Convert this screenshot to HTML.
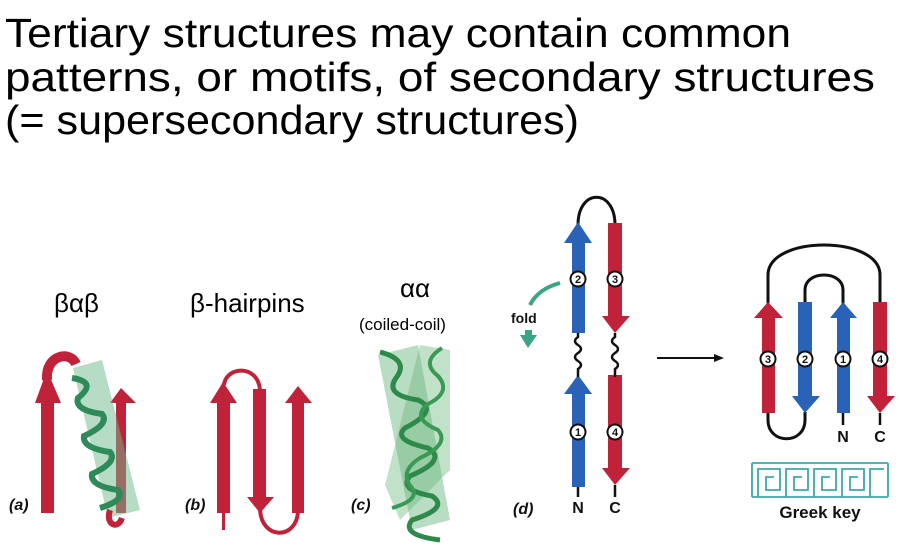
<!DOCTYPE html>
<html><head><meta charset="utf-8"><style>
body{margin:0;background:#fff;width:900px;height:549px;overflow:hidden}
svg{display:block}
.t{font-family:"Liberation Sans",sans-serif;fill:#000}
.b{font-family:"Liberation Sans",sans-serif;font-weight:bold;fill:#111}
</style></head><body>
<svg width="900" height="549" viewBox="0 0 900 549">
<g class="t" font-size="41">
<text x="5" y="47" textLength="786" lengthAdjust="spacingAndGlyphs">Tertiary structures may contain common</text>
<text x="5" y="91" textLength="870" lengthAdjust="spacingAndGlyphs">patterns, or motifs, of secondary structures</text>
<text x="5" y="134" textLength="574" lengthAdjust="spacingAndGlyphs">(= supersecondary structures)</text>
</g>
<text class="t" x="54" y="312" font-size="26">βαβ</text>
<text class="t" x="190" y="312" font-size="26">β-hairpins</text>
<text class="t" x="400" y="297" font-size="26">αα</text>
<text class="t" x="359" y="330" font-size="17">(coiled-coil)</text>

<g font-style="italic" class="b" font-size="16">
<text x="9" y="510">(a)</text>
<text x="185" y="510">(b)</text>
<text x="351" y="510">(c)</text>
<text x="513" y="514">(d)</text>
</g>

<!-- (a) beta-alpha-beta -->
<g fill="#c0223a">
<rect x="41" y="398" width="13" height="115"/>
<polygon points="35,403 47,370 61,403"/>
<path d="M47 380 C45 355,70 350,76 364" stroke="#c0223a" stroke-width="10" fill="none"/>
<rect x="116" y="398" width="10" height="115"/>
<polygon points="110,403 121,388 136,403"/>
<path d="M73 368 L108 518 L140 510 L102 360 Z" fill="rgba(110,185,140,0.5)"/>
<path d="M72 378 Q98 382,78 398 Q74 410,102 414 Q110 424,84 436 Q82 448,110 452 Q118 462,92 474 Q90 486,118 490 Q126 500,100 508" stroke="#2e8a58" stroke-width="6" fill="none"/>
<path d="M110 510 C105 525,118 530,122 518" stroke="#c0223a" stroke-width="6" fill="none"/>
</g>

<!-- (b) hairpins -->
<g fill="#c0223a">
<rect x="217" y="398" width="13" height="115"/>
<rect x="222" y="510" width="3" height="20"/>
<polygon points="210,403 223,382 237,403"/>
<rect x="253" y="389" width="13" height="110"/>
<polygon points="247,497 260,513 274,497"/>
<rect x="292" y="398" width="12" height="115"/>
<polygon points="285,403 298,386 312,403"/>
<path d="M224 385 C226 366,258 364,260 390" stroke="#c0223a" stroke-width="4" fill="none"/>
<path d="M260 510 C262 540,296 540,298 512" stroke="#c0223a" stroke-width="4" fill="none"/>
</g>

<!-- (c) coiled coil -->
<g>
<path d="M378 355 L418 345 L450 520 L412 530 Z" fill="rgba(100,180,120,0.45)"/>
<path d="M420 345 L450 350 L450 470 L400 520 L385 485 Z" fill="rgba(100,180,120,0.4)"/>
<path d="M380 352 Q410 360,396 378 Q384 395,418 400 Q440 410,405 428 Q392 440,428 448 Q448 460,410 476 Q398 490,432 496 Q450 508,412 520 Q400 535,440 540" stroke="#2e8a4a" stroke-width="5" fill="none"/>
<path d="M442 348 Q420 362,438 376 Q452 392,428 404 Q410 418,438 430 Q450 444,420 458 Q398 472,412 488 Q420 500,392 508" stroke="#3a9a55" stroke-width="4" fill="none"/>
</g>

<!-- (d) unfolded -->
<g>
<path d="M578 225 C578 188,615 188,615 225" stroke="#111" stroke-width="3" fill="none"/>
<rect x="572" y="240" width="13" height="93" fill="#2a62b8"/>
<polygon points="564,243 578,222 592,243" fill="#2a62b8"/>
<rect x="572" y="391" width="13" height="96" fill="#2a62b8"/>
<polygon points="564,394 578,375 592,394" fill="#2a62b8"/>
<rect x="608" y="223" width="14" height="95" fill="#c0223a"/>
<polygon points="602,316 615,333 630,316" fill="#c0223a"/>
<rect x="608" y="375" width="14" height="95" fill="#c0223a"/>
<polygon points="602,468 615,485 630,468" fill="#c0223a"/>
<path d="M578 333 v4 q-6 4 0 8 q6 4 0 8 q-6 4 0 8 q6 4 0 8 v8 M615 333 v4 q-6 4 0 8 q6 4 0 8 q-6 4 0 8 q6 4 0 8 v8 M578 487 v10 M615 485 v12" stroke="#111" stroke-width="2.5" fill="none"/>
<g stroke="#111" stroke-width="2" fill="#fff">
<circle cx="578" cy="279" r="7.5"/><circle cx="615" cy="279" r="7.5"/><circle cx="578" cy="432" r="7.5"/><circle cx="615" cy="432" r="7.5"/>
</g>
<g class="b" font-size="11" text-anchor="middle">
<text x="578" y="283">2</text><text x="615" y="283">3</text><text x="578" y="436">1</text><text x="615" y="436">4</text>
</g>
<text class="b" x="578" y="513" font-size="16" text-anchor="middle">N</text>
<text class="b" x="615" y="513" font-size="16" text-anchor="middle">C</text>
<text class="b" x="511" y="323" font-size="14">fold</text>
<path d="M560 283 C545 287,535 295,530 305" stroke="#3aa585" stroke-width="4" fill="none"/>
<rect x="525" y="330" width="7" height="6" fill="#3aa585"/>
<polygon points="520,335 528,348 537,335" fill="#3aa585"/>
</g>

<g>
<line x1="657" y1="358" x2="716" y2="358" stroke="#111" stroke-width="2"/>
<polygon points="714,354 724,358 714,362" fill="#111"/>
</g>

<!-- folded greek key -->
<g>
<path d="M768 305 V275 C768 235,880 235,880 275 V305" stroke="#111" stroke-width="3" fill="none"/>
<path d="M805 305 V290 C805 270,843 270,843 290 V305" stroke="#111" stroke-width="3" fill="none"/>
<path d="M768 412 V420 C768 445,805 445,805 420 V412" stroke="#111" stroke-width="3" fill="none"/>
<rect x="762" y="316" width="13" height="97" fill="#c0223a"/>
<polygon points="754,318 768,302 783,318" fill="#c0223a"/>
<rect x="798" y="302" width="14" height="96" fill="#2a62b8"/>
<polygon points="792,396 805,413 820,396" fill="#2a62b8"/>
<rect x="837" y="316" width="13" height="97" fill="#2a62b8"/>
<polygon points="830,318 843,302 857,318" fill="#2a62b8"/>
<rect x="873" y="302" width="14" height="96" fill="#c0223a"/>
<polygon points="867,396 880,413 895,396" fill="#c0223a"/>
<path d="M843 413 v12 M880 413 v12" stroke="#111" stroke-width="2.5"/>
<g stroke="#111" stroke-width="2" fill="#fff">
<circle cx="768" cy="359" r="7.5"/><circle cx="805" cy="359" r="7.5"/><circle cx="843" cy="359" r="7.5"/><circle cx="880" cy="359" r="7.5"/>
</g>
<g class="b" font-size="11" text-anchor="middle">
<text x="768" y="363">3</text><text x="805" y="363">2</text><text x="843" y="363">1</text><text x="880" y="363">4</text>
</g>
<text class="b" x="843" y="442" font-size="16" text-anchor="middle">N</text>
<text class="b" x="880" y="442" font-size="16" text-anchor="middle">C</text>
</g>

<g stroke="#3aa9a9" stroke-width="1.8" fill="none">
<path d="M752 463 H888 M752 497 H888 M752 463 V497 M888 463 V497"/>
<path d="M758 497 V469 H780 V490 H766 V477 H774 M786 497 V469 H808 V490 H794 V477 H802 M814 497 V469 H836 V490 H822 V477 H830 M842 497 V469 H864 V490 H850 V477 H858 M870 497 V469 H884"/>
</g>
<text class="b" x="820" y="518" font-size="17" text-anchor="middle">Greek key</text>
</svg>
</body></html>
